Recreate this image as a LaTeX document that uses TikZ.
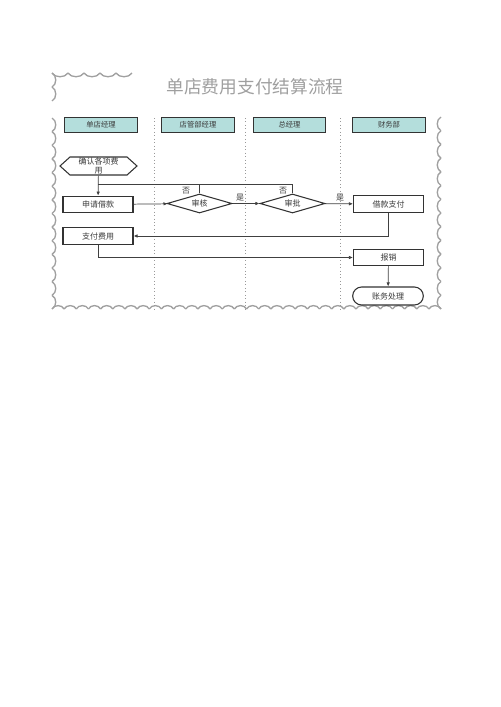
\documentclass[tikz,border=0pt]{standalone}
\usepackage{fontspec}
\newfontfamily\cjk{Noto Sans CJK SC}
\usetikzlibrary{shapes.geometric,shapes.misc,shapes.symbols,arrows.meta}
\definecolor{hdrfill}{HTML}{B4DEDC}
\definecolor{framegray}{HTML}{A0A0A0}
\definecolor{ink}{HTML}{3A3A3A}
\begin{document}
\begin{tikzpicture}[x=0.75pt,y=-0.75pt,
  frame/.style={draw=framegray,line width=1pt},
  lane/.style={draw=gray!80,dotted,line width=0.6pt},
  hdr/.style={draw=black!80,fill=hdrfill,line width=0.8pt,minimum width=54.5pt,minimum height=11pt,inner sep=0pt,font=\cjk\fontsize{5.5}{6}\selectfont,text=ink},
  proc/.style={draw=black!80,line width=0.8pt,minimum width=52.5pt,minimum height=12.5pt,inner sep=0pt,font=\cjk\fontsize{6}{7}\selectfont,text=ink},
  dia/.style={diamond,draw=black!80,line width=0.8pt,minimum width=48.75pt,minimum height=14.25pt,inner sep=0pt,aspect=3.4,font=\cjk\fontsize{6}{7}\selectfont,text=ink},
  hexa/.style={signal,signal to=west and east,signal pointer angle=84,draw=black!80,line width=0.8pt,minimum width=57.75pt,minimum height=13.5pt,inner sep=0pt,align=center,font=\cjk\fontsize{6}{6.5}\selectfont,text=ink},
  term/.style={rounded rectangle,draw=black!80,line width=0.8pt,minimum width=53pt,minimum height=13.5pt,inner sep=0pt,font=\cjk\fontsize{6}{7}\selectfont,text=ink},
  conn/.style={draw=black!75,line width=0.55pt},
  arr/.style={conn,-{Latex[length=3pt,width=2.6pt]}},
  lbl/.style={font=\cjk\fontsize{6}{7}\selectfont,text=ink,inner sep=0pt}
]
\useasboundingbox (0,0) rectangle (500,707);

% scalloped frame
\foreach \i in {0,...,4}
  \draw[frame] ({52+16*\i},73) .. controls ({52+16*\i+3},78) and ({52+16*\i+13},78) .. ({52+16*(\i+1)},73);
\foreach \i in {0,...,1}
  \draw[frame] (52,{73+14*\i}) .. controls (57,{73+14*\i+2.5}) and (57,{73+14*\i+11.5}) .. (52,{73+14*(\i+1)});
\foreach \i in {0,...,13}
  \draw[frame] (52,{118+13.64*\i}) .. controls (57,{118+13.64*\i+2.5}) and (57,{118+13.64*\i+11.1}) .. (52,{118+13.64*(\i+1)});
\foreach \i in {0,...,31}
  \draw[frame] ({52+12.16*\i},309) .. controls ({52+12.16*\i+2},304.5) and ({52+12.16*\i+10.1},304.5) .. ({52+12.16*(\i+1)},309);
\foreach \i in {0,...,13}
  \draw[frame] (441,{117+13.71*\i}) .. controls (436,{117+13.71*\i+2.5}) and (436,{117+13.71*\i+11.2}) .. (441,{117+13.71*(\i+1)});

% title
\node[font=\cjk\fontsize{13.3}{15}\selectfont,text=gray!75] (title) at (255,87) {单店费用支付结算流程};

% lanes
\foreach \x in {154,245,340} \draw[lane] (\x,118) -- (\x,309);

% headers
\node[hdr] (h1) at (101,125) {单店经理};
\node[hdr] (h2) at (198,125) {店管部经理};
\node[hdr] (h3) at (289.5,125) {总经理};
\node[hdr] (h4) at (389,125) {财务部};

% nodes
\node[hexa] (confirm) at (98.5,166) {确认各项费\\用};
\node[proc] (apply) at (98,204.5) {申请借款};
\node[dia] (audit) at (199.5,203.5) {审核};
\node[dia] (approve) at (292.5,203.5) {审批};
\node[proc] (loanpay) at (388.5,204) {借款支付};
\node[proc] (pay) at (98,236) {支付费用};
\node[proc] (reimb) at (388.5,257.5) {报销};
\node[term] (acct) at (388,296) {账务处理};

% connectors
\coordinate (bar) at (0,184);
\draw[arr] (confirm) -- (apply);
\draw[conn] (audit.north) -- (audit.north |- bar) -- (apply.north |- bar);
\draw[conn] (approve.north) -- (approve.north |- bar) -- (audit.north |- bar);
\draw[arr] (apply) -- (audit);
\draw[arr] (audit) -- (approve);
\draw[arr] (approve) -- (loanpay);
\draw[arr] (loanpay.south) -- (loanpay.south |- pay) -- (pay.east);
\draw[arr] (pay.south) -- (pay.south |- reimb) -- (reimb.west);
\draw[arr] (reimb) -- (acct);

% labels
\node[lbl] (no1) at (186,191) {否};
\node[lbl] (no2) at (283,191) {否};
\node[lbl] (yes1) at (240,198) {是};
\node[lbl] (yes2) at (340,198) {是};
\end{tikzpicture}
\end{document}
